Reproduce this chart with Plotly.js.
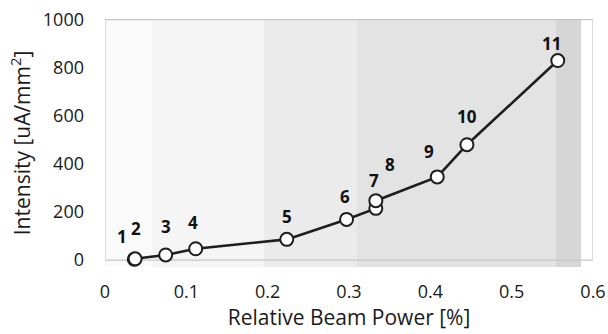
<!DOCTYPE html>
<html><head><meta charset="utf-8">
<script src="https://cdn.plot.ly/plotly-3.0.1.min.js"></script>
<style>html,body{margin:0;padding:0;background:#fff}#c{width:608px;height:334px}</style>
</head><body><div id="c"></div>
<script>
// data
const power = [0.036, 0.037, 0.0746, 0.1115, 0.2235, 0.297, 0.333, 0.333, 0.4085, 0.445, 0.5567];
const intensity = [3, 5, 21, 47, 86, 169, 215, 247, 346, 480, 830];
const pointLabels = ['1','2','3','4','5','6','7','8','9','10','11'];
// background band edges (x) and their grey levels
const bandEdges = [0, 0.058, 0.1956, 0.309, 0.5546, 0.5853];
const bandColors = ['#fafafa', '#f5f5f5', '#ebebeb', '#e3e3e3', '#d6d6d6'];
const xTicks = [0, 0.1, 0.2, 0.3, 0.4, 0.5, 0.6];
const xTickText = ['0', '0.1', '0.2', '0.3', '0.4', '0.5', '0.6'];
const yTicks = [0, 200, 400, 600, 800, 1000];
const yTickText = ['0', '200', '400', '600', '800', '1000'];

// label offsets (px) relative to each point
const labelShift = [[-12,23],[1,30],[0,28],[-3,26],[0,23],[-2,23],[-2,28],[14,36],[-8,25],[0,28],[-6,17]];

const FONT = 'Open Sans, Noto Sans, sans-serif';
const shapes = [];
for (let i = 0; i < bandColors.length; i++) {
  shapes.push({type:'rect', xref:'x', yref:'y', x0:bandEdges[i], x1:bandEdges[i+1], y0:-29, y1:1003,
    fillcolor:bandColors[i], line:{width:0}, layer:'below'});
}
shapes.push({type:'rect', xref:'x', yref:'y', x0:0, x1:0.6, y0:0, y1:1000,
  fillcolor:'rgba(0,0,0,0)', line:{color:'#c6c6c6', width:1.2}, layer:'below'});

const annotations = pointLabels.map((t,i)=>({
  x: power[i], y: intensity[i], xref:'x', yref:'y', text:t, showarrow:false,
  xshift: labelShift[i][0], yshift: labelShift[i][1],
  font:{family:FONT, size:17, color:'#111', weight:'bold'}
}));

const trace = {
  x: power, y: intensity, type:'scatter', mode:'lines+markers',
  line:{color:'#1e1e1e', width:2.6},
  marker:{size:13, color:'#ffffff', line:{color:'#1e1e1e', width:2}},
  cliponaxis:false, hoverinfo:'skip'
};

const layout = {
  width:608, height:334,
  margin:{l:105, r:15, t:19, b:67},
  paper_bgcolor:'#ffffff', plot_bgcolor:'#ffffff',
  showlegend:false,
  font:{family:FONT, color:'#1a1a1a', size:18},
  xaxis:{range:[0,0.6], tickvals:xTicks, ticktext:xTickText, showgrid:false, zeroline:false,
    showline:false, ticks:'', ticklabelstandoff:12, fixedrange:true,
    tickfont:{family:FONT, size:18, color:'#1a1a1a'},
    title:{text:'Relative Beam Power [%]', font:{family:FONT, size:21, color:'#1a1a1a'}, standoff:6}},
  yaxis:{range:[-29,1003], tickvals:yTicks, ticktext:yTickText, showgrid:false, zeroline:false,
    showline:false, ticks:'', ticklabelstandoff:20, fixedrange:true,
    tickfont:{family:FONT, size:18, color:'#1a1a1a'},
    title:{text:'Intensity [uA/mm<sup>2</sup>]', font:{family:FONT, size:21, color:'#1a1a1a'}, standoff:6}},
  shapes: shapes,
  annotations: annotations
};
Plotly.newPlot('c', [trace], layout, {staticPlot:true, displayModeBar:false});
</script></body></html>
